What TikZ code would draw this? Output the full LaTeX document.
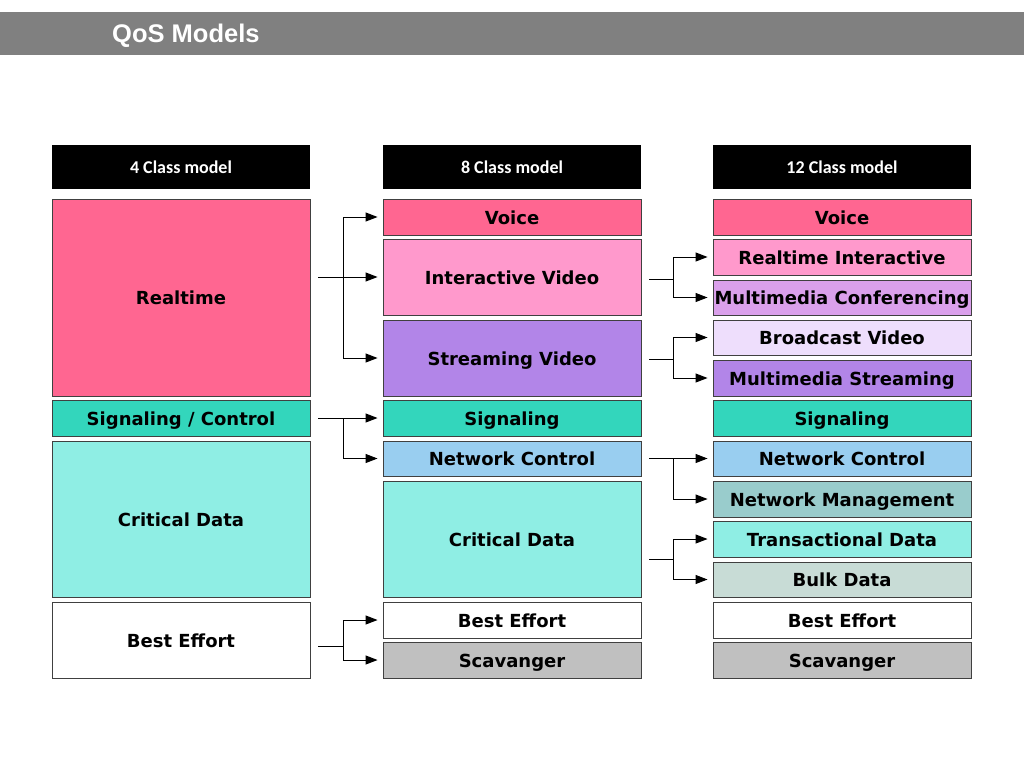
\documentclass[tikz,border=0pt]{standalone}
\usepackage{fontspec}
\setmainfont{DejaVu Sans}
\newfontfamily\titlefont{Liberation Sans}
\newfontfamily\headfont{Carlito}
\usetikzlibrary{arrows.meta,calc}
\definecolor{cVoice}{RGB}{255,102,145}
\definecolor{cIV}{RGB}{255,153,204}
\definecolor{cSV}{RGB}{178,133,232}
\definecolor{cSig}{RGB}{51,214,188}
\definecolor{cNC}{RGB}{153,206,240}
\definecolor{cCD}{RGB}{143,238,228}
\definecolor{cScav}{RGB}{192,192,192}
\definecolor{cMMC}{RGB}{218,160,235}
\definecolor{cBV}{RGB}{238,222,252}
\definecolor{cNM}{RGB}{153,204,204}
\definecolor{cBulk}{RGB}{200,220,214}
\definecolor{cBar}{RGB}{128,128,128}
\tikzset{
  box/.style={draw=black!75, line width=0.9pt, minimum width=258pt, inner sep=0pt,
    text height=14pt, text depth=0pt,
    font=\fontsize{18}{21}\selectfont\bfseries, text=black},
  hdr/.style={fill=black, minimum width=258pt, minimum height=44pt, inner sep=0pt,
    text=white, font=\headfont\fontsize{18}{21}\selectfont\bfseries},
  arr/.style={line width=1pt, -{Triangle[length=12pt,width=9pt]}, shorten >=5pt},
  ln/.style={line width=1pt}
}
\newcommand{\bx}[5]{\node[box, fill=#2, minimum height=#4pt] (#1) at (#3) {#5};}
\begin{document}
\begin{tikzpicture}[x=1pt,y=-1pt]
\useasboundingbox (0,0) rectangle (1024,768);
\fill[cBar] (0,12) rectangle (1024,55);
\node[anchor=west, text=white, font=\titlefont\fontsize{25.5}{30}\selectfont\bfseries, inner sep=0pt] (title) at (112,36) {QoS Models};
% headers
\node[hdr] (h1) at (181,167) {4 Class model};
\node[hdr] (h2) at (512,167) {8 Class model};
\node[hdr] (h3) at (842,167) {12 Class model};
% column 1
\bx{rt}{cVoice}{181,297.5}{197}{Realtime}
\bx{sc}{cSig}{181,418}{36}{Signaling / Control}
\bx{cd1}{cCD}{181,519}{156}{Critical Data}
\bx{be1}{white}{181,640}{76}{Best Effort}
% column 2
\bx{vo2}{cVoice}{512,217}{36}{Voice}
\bx{iv}{cIV}{512,277}{76}{Interactive Video}
\bx{sv}{cSV}{512,358}{76}{Streaming Video}
\bx{sg2}{cSig}{512,418}{36}{Signaling}
\bx{nc2}{cNC}{512,458.5}{35}{Network Control}
\bx{cd2}{cCD}{512,539}{116}{Critical Data}
\bx{be2}{white}{512,620}{36}{Best Effort}
\bx{sc2}{cScav}{512,660}{36}{Scavanger}
% column 3
\bx{vo3}{cVoice}{842,217}{36}{Voice}
\bx{ri}{cIV}{842,257}{36}{Realtime Interactive}
\bx{mc}{cMMC}{842,297.5}{35}{Multimedia Conferencing}
\bx{bv}{cBV}{842,337.5}{35}{Broadcast Video}
\bx{ms}{cSV}{842,378}{36}{Multimedia Streaming}
\bx{sg3}{cSig}{842,418}{36}{Signaling}
\bx{nc3}{cNC}{842,458.5}{35}{Network Control}
\bx{nm}{cNM}{842,499}{36}{Network Management}
\bx{td}{cCD}{842,539}{36}{Transactional Data}
\bx{bk}{cBulk}{842,579.5}{35}{Bulk Data}
\bx{be3}{white}{842,620}{36}{Best Effort}
\bx{sc3}{cScav}{842,660}{36}{Scavanger}
% junction coordinates
\coordinate (j1) at ($(rt.east)+(33,0)$);
\coordinate (j2) at ($(iv.east)+(32,0)$);
% column 1 -> column 2
\draw[arr] ($(rt.east|-iv)+(8,0)$) -- (iv.west);
\draw[arr] (j1|-iv) |- (vo2.west);
\draw[arr] (j1|-iv) |- (sv.west);
\draw[arr] ($(sc.east)+(8,0)$) -- (sg2.west);
\draw[arr] (j1|-sc) |- (nc2.west);
\coordinate (m1) at ($(be2.south)!0.5!(sc2.north)$);
\draw[ln] ($(be1.east|-m1)+(8,6)$) -- ($(j1|-m1)+(0,6)$);
\draw[arr] ($(j1|-m1)+(0,6)$) |- (be2.west);
\draw[arr] ($(j1|-m1)+(0,6)$) |- (sc2.west);
% column 2 -> column 3
\coordinate (m2) at ($(ri.south)!0.5!(mc.north)$);
\draw[ln] ($(iv.east|-m2)+(8,2)$) -- ($(j2|-m2)+(0,2)$);
\draw[arr] ($(j2|-m2)+(0,2)$) |- (ri.west);
\draw[arr] ($(j2|-m2)+(0,2)$) |- (mc.west);
\coordinate (m3) at ($(bv.south)!0.5!(ms.north)$);
\draw[ln] ($(sv.east|-m3)+(8,2)$) -- ($(j2|-m3)+(0,2)$);
\draw[arr] ($(j2|-m3)+(0,2)$) |- (bv.west);
\draw[arr] ($(j2|-m3)+(0,2)$) |- (ms.west);
\draw[arr] ($(nc2.east)+(8,0)$) -- (nc3.west);
\draw[arr] (j2|-nc2) |- (nm.west);
\coordinate (m4) at ($(td.south)!0.5!(bk.north)$);
\draw[ln] ($(cd2.east|-m4)+(8,0)$) -- (j2|-m4);
\draw[arr] (j2|-m4) |- (td.west);
\draw[arr] (j2|-m4) |- (bk.west);
\end{tikzpicture}
\end{document}
